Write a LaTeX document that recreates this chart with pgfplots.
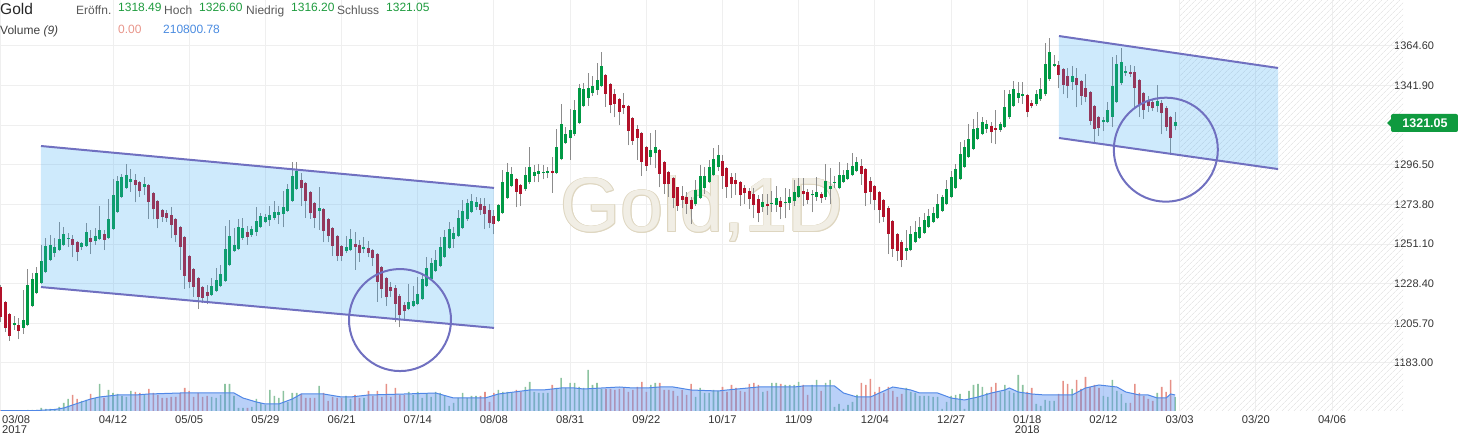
\documentclass[border=0pt]{standalone}
\usepackage{pgfplots}
\pgfplotsset{compat=1.18}
\usepackage{pgfplotstable}
\usepackage{fontspec}
\setmainfont{Liberation Sans}
\usetikzlibrary{patterns.meta}
\definecolor{upc}{RGB}{0,153,68}
\definecolor{dnc}{RGB}{178,18,42}
\definecolor{wick}{RGB}{140,140,140}
\definecolor{gridc}{RGB}{239,239,239}
\definecolor{chan}{RGB}{60,170,245}
\definecolor{chanline}{RGB}{112,112,192}
\definecolor{volup}{RGB}{140,195,160}
\definecolor{voldn}{RGB}{230,145,135}
\definecolor{maf}{RGB}{100,150,240}
\definecolor{mal}{RGB}{80,135,230}
\definecolor{wm}{RGB}{241,238,229}
\definecolor{wmo}{RGB}{222,214,192}
\definecolor{txt}{RGB}{51,51,51}
\definecolor{hdrgreen}{RGB}{30,155,62}
\definecolor{hdrred}{RGB}{232,149,138}
\definecolor{hdrblue}{RGB}{74,139,224}
\definecolor{boxgreen}{RGB}{15,154,63}

\pgfplotstableread{
i O H L C V
0 1226.7 1227.7 1206.7 1209.5 0.5
1 1218.0 1218.5 1200.8 1203.2 0.5
2 1211.1 1211.5 1195.8 1198.7 0.5
3 1204.9 1209.9 1201.9 1206.1 0.5
4 1204.8 1208.6 1196.6 1201.3 0.5
5 1203.2 1224.8 1199.6 1207.6 0.5
6 1205.0 1236.8 1204.0 1227.7 1
7 1215.8 1234.4 1215.0 1231.1 1
8 1223.3 1237.8 1222.5 1234.6 1
9 1229.0 1250.6 1228.2 1241.4 3
10 1235.3 1254.4 1234.5 1250.0 2
11 1242.2 1256.3 1241.4 1250.6 2
12 1246.2 1254.4 1243.5 1249.5 2
13 1247.7 1263.6 1247.0 1254.0 4
14 1250.8 1261.1 1250.0 1256.9 8
15 1254.0 1257.3 1249.6 1254.0 12
16 1254.0 1256.3 1243.5 1250.8 16
17 1252.1 1253.0 1241.4 1246.8 12
18 1249.6 1252.2 1247.7 1251.7 10
19 1250.2 1263.0 1249.5 1258.0 11
20 1254.6 1259.2 1245.3 1252.3 17
21 1252.9 1260.2 1250.6 1255.8 13
22 1254.0 1272.9 1253.2 1259.2 27
23 1256.9 1259.0 1247.7 1253.5 13
24 1254.6 1276.8 1254.0 1265.5 21
25 1260.0 1288.2 1259.2 1279.2 18
26 1269.7 1290.1 1269.0 1287.3 17
27 1278.3 1291.3 1277.6 1289.4 15
28 1283.4 1296.8 1282.7 1290.7 14
29 1286.9 1294.1 1281.0 1288.4 20
30 1287.8 1291.1 1275.0 1285.0 19
31 1286.5 1287.2 1278.3 1281.5 18
32 1284.0 1289.4 1279.2 1285.5 16
33 1285.0 1285.6 1265.5 1275.4 22
34 1280.2 1281.0 1265.3 1271.0 18
35 1275.8 1276.5 1260.1 1265.3 16
36 1270.5 1271.2 1264.0 1266.8 13
37 1268.9 1270.6 1264.0 1266.3 13
38 1267.8 1272.2 1254.4 1262.1 14
39 1265.3 1266.0 1252.3 1256.1 14
40 1260.9 1261.6 1236.3 1249.6 18
41 1255.2 1256.0 1225.4 1233.0 23
42 1244.3 1245.0 1225.8 1229.2 20
43 1236.8 1237.5 1221.0 1226.7 14
44 1231.7 1232.4 1213.9 1221.0 18
45 1226.5 1227.2 1217.2 1220.4 14
46 1223.7 1227.7 1216.6 1221.6 15
47 1222.0 1231.5 1221.3 1227.1 14
48 1224.4 1237.2 1223.7 1230.5 13
49 1227.1 1239.2 1226.4 1234.0 16
50 1230.2 1261.4 1229.5 1248.3 27
51 1239.2 1264.9 1238.5 1255.8 27
52 1247.4 1260.1 1246.7 1250.6 15
53 1248.3 1265.5 1247.6 1260.7 3
54 1254.8 1265.9 1253.5 1260.1 3
55 1258.0 1261.4 1250.6 1255.2 3
56 1256.3 1261.4 1255.4 1259.8 4
57 1258.2 1272.2 1255.8 1264.3 12
58 1261.1 1269.1 1260.4 1267.2 8
59 1263.9 1268.5 1263.0 1266.4 6
60 1264.9 1272.9 1261.4 1267.8 21
61 1266.1 1276.0 1264.9 1269.7 15
62 1267.8 1272.9 1262.6 1269.7 13
63 1268.4 1281.7 1260.7 1272.6 20
64 1270.3 1285.5 1269.6 1282.7 9
65 1276.0 1298.3 1275.3 1290.1 18
66 1282.7 1298.3 1282.0 1293.0 18
67 1287.8 1291.6 1272.9 1283.1 17
68 1285.9 1286.6 1266.3 1276.0 13
69 1281.0 1281.7 1265.5 1268.7 13
70 1274.7 1275.4 1260.1 1266.3 13
71 1270.3 1283.6 1259.2 1271.8 25
72 1271.0 1271.7 1252.1 1258.6 18
73 1265.5 1266.2 1252.1 1255.8 10
74 1260.1 1260.8 1244.3 1250.2 14
75 1255.8 1256.5 1241.4 1244.3 13
76 1250.0 1250.7 1241.4 1244.3 13
77 1247.4 1255.8 1245.8 1249.3 15
78 1247.7 1259.6 1247.0 1254.0 12
79 1251.2 1258.2 1236.3 1249.6 16
80 1250.6 1253.5 1241.0 1246.2 13
81 1248.3 1255.0 1245.8 1249.3 13
82 1248.9 1253.1 1243.5 1246.2 20
83 1247.7 1248.4 1238.5 1243.3 15
84 1245.5 1246.2 1218.1 1229.6 20
85 1237.8 1238.5 1220.0 1225.2 14
86 1231.5 1232.2 1215.8 1221.0 27
87 1226.7 1229.6 1221.0 1224.4 14
88 1225.8 1227.7 1206.3 1216.8 23
89 1221.6 1222.3 1203.4 1210.5 16
90 1216.2 1218.1 1207.1 1212.8 16
91 1213.9 1228.1 1213.2 1217.8 19
92 1215.8 1227.1 1215.3 1218.5 16
93 1217.0 1232.5 1216.3 1222.5 19
94 1219.9 1234.8 1219.2 1231.1 13
95 1227.1 1243.5 1226.4 1237.6 17
96 1231.1 1243.1 1230.4 1240.1 14
97 1235.9 1247.7 1235.2 1242.0 19
98 1238.6 1255.4 1237.9 1249.3 18
99 1243.9 1259.2 1243.2 1255.0 15
100 1249.1 1263.6 1248.4 1259.6 5
101 1254.0 1261.1 1249.1 1257.7 8
102 1255.9 1270.6 1255.2 1265.9 13
103 1260.5 1276.4 1259.8 1270.1 18
104 1265.3 1276.8 1264.6 1274.8 13
105 1269.7 1279.6 1269.0 1275.8 15
106 1272.6 1278.3 1270.6 1275.0 15
107 1274.1 1277.3 1267.8 1270.6 15
108 1273.1 1277.3 1259.6 1268.4 19
109 1270.6 1273.9 1260.5 1263.4 9
110 1267.2 1270.6 1256.7 1262.6 18
111 1264.5 1274.2 1263.8 1273.5 21
112 1269.1 1293.6 1268.4 1286.5 19
113 1277.7 1297.4 1277.0 1292.2 19
114 1284.4 1295.5 1283.7 1291.3 18
115 1288.4 1289.1 1272.2 1281.2 21
116 1285.0 1285.7 1272.9 1279.8 19
117 1282.5 1295.5 1281.8 1290.7 24
118 1286.5 1306.5 1285.8 1295.1 29
119 1290.3 1296.4 1286.5 1292.2 19
120 1291.3 1297.0 1286.5 1293.0 18
121 1292.0 1296.4 1288.2 1292.0 18
122 1292.0 1295.5 1288.8 1293.0 18
123 1293.0 1300.8 1280.6 1292.0 26
124 1292.0 1316.9 1291.3 1306.5 23
125 1299.7 1331.4 1299.0 1319.9 33
126 1309.2 1318.4 1308.5 1314.2 23
127 1311.7 1328.3 1299.4 1316.5 28
128 1314.0 1333.7 1313.3 1327.9 28
129 1320.7 1342.8 1320.0 1340.3 24
130 1330.3 1343.6 1329.6 1339.8 23
131 1335.0 1348.9 1330.4 1340.3 41
132 1337.9 1347.4 1336.0 1341.7 26
133 1339.4 1354.7 1336.5 1345.1 28
134 1341.9 1361.4 1341.2 1353.1 22
135 1348.0 1348.7 1329.8 1337.1 22
136 1342.8 1343.5 1326.0 1330.8 22
137 1337.1 1339.8 1323.7 1331.4 21
138 1334.2 1334.9 1319.3 1327.0 22
139 1330.8 1337.5 1325.6 1329.3 23
140 1330.2 1330.9 1307.7 1316.1 19
141 1323.2 1323.9 1307.9 1310.4 21
142 1317.1 1319.3 1299.3 1312.1 24
143 1314.6 1315.3 1290.3 1298.3 29
144 1306.5 1307.2 1293.2 1296.0 19
145 1301.2 1315.0 1296.4 1305.0 26
146 1303.1 1316.5 1294.5 1306.5 28
147 1305.0 1305.7 1283.6 1291.3 28
148 1298.0 1298.7 1279.8 1285.5 21
149 1292.2 1292.9 1278.3 1285.5 21
150 1288.8 1289.5 1271.6 1277.7 20
151 1283.6 1284.0 1270.3 1273.1 15
152 1278.7 1284.6 1271.6 1276.4 21
153 1277.9 1281.2 1268.4 1274.1 16
154 1276.4 1278.3 1262.6 1271.2 27
155 1273.9 1287.8 1273.2 1282.1 14
156 1277.7 1296.4 1277.0 1290.1 23
157 1283.4 1295.5 1279.8 1290.1 18
158 1286.9 1299.3 1286.2 1295.5 18
159 1290.7 1306.0 1290.0 1299.9 21
160 1295.1 1307.9 1293.2 1302.2 20
161 1298.7 1302.2 1282.7 1290.3 24
162 1294.7 1295.4 1277.8 1284.0 19
163 1289.4 1292.0 1277.7 1285.4 26
164 1287.8 1292.0 1279.2 1285.5 23
165 1286.5 1287.2 1273.1 1279.2 20
166 1283.1 1285.0 1274.1 1280.2 19
167 1281.5 1283.1 1271.2 1277.0 27
168 1279.8 1283.1 1265.9 1273.5 28
169 1277.0 1279.2 1263.6 1269.1 26
170 1272.6 1279.8 1269.7 1275.0 19
171 1274.1 1279.8 1267.8 1273.1 20
172 1273.9 1281.5 1269.7 1274.8 28
173 1273.5 1284.4 1269.7 1277.3 28
174 1275.8 1278.3 1265.3 1272.6 27
175 1274.5 1283.1 1265.9 1275.4 26
176 1274.8 1282.5 1270.6 1277.9 26
177 1276.0 1287.8 1272.9 1280.8 26
178 1278.3 1289.2 1277.6 1284.4 29
179 1281.5 1288.8 1272.9 1279.6 26
180 1281.2 1282.5 1274.1 1276.4 16
181 1279.0 1282.1 1269.3 1279.2 26
182 1278.3 1289.4 1275.8 1280.8 31
183 1279.8 1281.2 1274.8 1277.7 20
184 1278.3 1296.8 1276.4 1287.3 28
185 1282.7 1294.5 1274.1 1284.6 31
186 1286.0 1290.0 1283.0 1286.5 4
187 1283.1 1298.3 1282.4 1290.7 7
188 1286.9 1293.6 1286.2 1290.7 2
189 1288.4 1297.4 1287.7 1293.6 6
190 1290.7 1303.1 1290.0 1295.9 9
191 1293.0 1300.8 1292.3 1298.0 16
192 1295.9 1299.7 1285.0 1291.3 28
193 1294.1 1294.8 1272.9 1280.6 26
194 1287.3 1289.7 1274.1 1281.2 32
195 1284.4 1285.1 1270.6 1276.4 19
196 1281.0 1281.7 1263.0 1270.6 24
197 1276.4 1277.1 1264.0 1266.8 18
198 1272.0 1272.7 1245.4 1256.9 24
199 1264.3 1265.0 1243.9 1248.3 20
200 1256.9 1257.6 1241.6 1247.4 14
201 1252.5 1253.2 1237.8 1242.0 17
202 1247.2 1259.2 1242.0 1249.1 23
203 1247.7 1261.5 1247.0 1256.9 19
204 1252.5 1264.3 1251.8 1257.9 18
205 1254.8 1266.4 1254.1 1260.7 15
206 1257.7 1268.7 1257.0 1264.9 15
207 1261.1 1271.0 1260.4 1267.4 15
208 1264.0 1272.2 1263.3 1268.7 14
209 1266.3 1279.8 1265.6 1274.1 14
210 1270.3 1279.2 1269.6 1278.3 2
211 1274.1 1287.8 1273.4 1282.7 9
212 1278.3 1293.0 1277.6 1289.7 15
213 1283.4 1296.8 1282.7 1294.1 16
214 1288.4 1309.8 1287.7 1302.7 17
215 1295.5 1310.8 1294.8 1306.5 2
216 1301.2 1319.9 1300.5 1311.3 20
217 1305.6 1322.6 1304.9 1317.1 26
218 1311.3 1326.6 1310.6 1317.8 27
219 1314.2 1324.1 1313.5 1321.1 24
220 1317.1 1322.2 1315.0 1320.0 18
221 1318.8 1321.3 1308.8 1315.5 24
222 1317.8 1327.9 1308.3 1316.5 28
223 1316.5 1321.3 1315.5 1319.9 19
224 1318.4 1339.4 1317.7 1329.8 26
225 1323.7 1339.4 1323.0 1337.1 20
226 1330.4 1344.5 1329.7 1340.0 18
227 1335.0 1344.2 1331.8 1337.9 36
228 1336.1 1343.8 1331.4 1337.1 26
229 1336.5 1337.2 1323.7 1327.0 19
230 1331.8 1333.7 1328.9 1330.4 23
231 1331.2 1339.4 1330.5 1337.1 7
232 1334.0 1346.1 1333.3 1340.0 5
233 1336.9 1366.1 1336.2 1354.1 11
234 1345.5 1369.4 1344.8 1361.0 10
235 1353.3 1359.4 1352.8 1354.3 10
236 1353.7 1356.0 1340.3 1348.0 17
237 1351.4 1352.1 1336.9 1342.3 30
238 1347.4 1351.8 1334.6 1341.7 27
239 1344.2 1353.3 1339.4 1347.4 22
240 1346.5 1352.2 1329.5 1342.3 31
241 1344.5 1345.2 1330.8 1336.0 22
242 1340.7 1348.4 1332.3 1335.6 34
243 1338.1 1338.8 1319.3 1321.8 24
244 1330.2 1330.9 1308.8 1317.1 26
245 1323.7 1324.4 1313.0 1317.8 23
246 1320.9 1324.1 1315.9 1322.2 15
247 1321.3 1332.7 1320.6 1327.9 14
248 1324.1 1358.5 1318.4 1341.7 31
249 1332.7 1359.4 1332.0 1354.3 20
250 1343.2 1363.6 1342.5 1355.2 17
251 1349.3 1353.3 1347.6 1350.3 8
252 1349.5 1353.7 1346.6 1348.6 8
253 1349.5 1353.3 1329.5 1340.7 27
254 1345.1 1345.8 1323.7 1330.8 18
255 1337.5 1338.2 1322.8 1327.9 15
256 1333.1 1335.9 1327.0 1330.4 12
257 1332.3 1334.2 1327.4 1328.9 10
258 1330.4 1342.3 1326.6 1333.1 18
259 1331.8 1333.7 1314.0 1326.0 24
260 1329.3 1330.0 1316.1 1318.4 19
261 1323.7 1324.4 1303.1 1312.1 31
262 1318.49 1326.60 1316.20 1321.05 14
}\ohlc

\pgfplotstableread{
i m
0 0.3
8 0.5
10 1
12 1.5
14 3
16 6
18 9
20 12
22 14
24 15
26 16
30 16
33 17
40 18
50 18
52 18
54 13
57 9
59 7
62 7
65 12
67 17
72 17
76 14
78 14
82 16
90 17
97 18
101 13
108 13
111 17
118 21
121 21
125 23
128 23
130 22
138 24
141 23
144 23
147 24
150 24
154 21
160 20
162 21
169 24
177 24
179 25
186 25
188 18
191 14
194 14
199 24
203 21
205 18
209 18
212 13
215 11
218 14
221 18
224 21
225 23
227 19
230 17
233 16
239 16
242 23
245 26
249 24
251 19
254 16
256 16
258 13
260 13
261 17
262 16
}\vma

\tikzset{wmstyle/.style={anchor=base, font=\fontsize{77}{77}\selectfont, inner sep=0pt}}
\begin{document}
\begin{tikzpicture}
\useasboundingbox (0,0) rectangle (1458pt,438pt);
\begin{axis}[
  at={(0pt,27pt)}, anchor=south west, scale only axis,
  x=4.4816pt, y=1.7456pt,
  xmin=-0.2142, xmax=312.85, ymin=1155.5, ymax=1390.95,
  axis line style={draw=none},
  major tick length=0pt,
  xmajorgrids, ymajorgrids,
  grid style={draw=gridc, line width=1pt},
  ytick={1183,1205.7,1228.4,1251.1,1273.8,1296.5,1319.2,1341.9,1364.6},
  yticklabels={1183.00,1205.70,1228.40,1251.10,1273.80,1296.50,{},1341.90,1364.60},
  yticklabel pos=right,
  yticklabel style={anchor=west, inner sep=0pt, xshift=-9pt, text=txt, font=\fontsize{11}{13}\selectfont},
  xtick={25,42,59,76,93,110,127,144,161,178,195,212,229,246,263,280,297},
  xticklabels={04/12,05/05,05/29,06/21,07/14,08/08,08/31,09/22,10/17,11/09,12/04,12/27,{01/18\\2018},02/12,03/03,03/20,04/06},
  xticklabel style={anchor=north, align=center, inner sep=0pt, yshift=-4pt, text=txt, font=\fontsize{11.2}{10}\selectfont},
  extra x ticks={0},
  extra x tick labels={{03/08\\2017}},
  extra x tick style={grid=major, xticklabel style={anchor=north west, align=left, xshift=1pt}},
]
% hatched future area
\fill[pattern={Lines[angle=45,distance=4pt,line width=0.8pt]}, pattern color=black!9]
  (axis cs:263.09,1155.5) rectangle (axis cs:312.85,1390.95);
% watermark with outline
\node[wmstyle, text=wmo, xshift=0.8pt] at (axis cs:156.43,1258.05) {Gold,1D};
\node[wmstyle, text=wmo, xshift=-0.8pt] at (axis cs:156.43,1258.05) {Gold,1D};
\node[wmstyle, text=wmo, yshift=0.8pt] at (axis cs:156.43,1258.05) {Gold,1D};
\node[wmstyle, text=wmo, yshift=-0.8pt] at (axis cs:156.43,1258.05) {Gold,1D};
\node[wmstyle, text=wmo, xshift=0.6pt, yshift=0.6pt] at (axis cs:156.43,1258.05) {Gold,1D};
\node[wmstyle, text=wmo, xshift=-0.6pt, yshift=0.6pt] at (axis cs:156.43,1258.05) {Gold,1D};
\node[wmstyle, text=wmo, xshift=0.6pt, yshift=-0.6pt] at (axis cs:156.43,1258.05) {Gold,1D};
\node[wmstyle, text=wmo, xshift=-0.6pt, yshift=-0.6pt] at (axis cs:156.43,1258.05) {Gold,1D};
\node[wmstyle, text=wm] at (axis cs:156.43,1258.05) {Gold,1D};
% wicks
\addplot[draw=none, forget plot, error bars/.cd, y dir=plus, y explicit, error mark=none,
  error bar style={color=wick, line width=1pt}]
  table[x=i, y=L, y error plus expr=\thisrow{H}-\thisrow{L}] {\ohlc};
% up bodies
\addplot[draw=none, forget plot, restrict expr to domain={\thisrow{C}-\thisrow{O}}{0:1000},
  error bars/.cd, y dir=plus, y explicit, error mark=none,
  error bar style={color=upc, line width=3pt}]
  table[x=i, y expr={min(\thisrow{O},\thisrow{C})}, y error plus expr={max(abs(\thisrow{C}-\thisrow{O}),0.6)}] {\ohlc};
% down bodies
\addplot[draw=none, forget plot, restrict expr to domain={\thisrow{C}-\thisrow{O}}{-1000:-0.0001},
  error bars/.cd, y dir=plus, y explicit, error mark=none,
  error bar style={color=dnc, line width=3pt}]
  table[x=i, y expr={min(\thisrow{O},\thisrow{C})}, y error plus expr={max(abs(\thisrow{C}-\thisrow{O}),0.6)}] {\ohlc};
% channel 1
\fill[chan, fill opacity=0.25] (axis cs:8.934,1307.3) -- (axis cs:110.01,1283.3) -- (axis cs:110.01,1203.1) -- (axis cs:8.934,1226.5) -- cycle;
\draw[chanline, line width=2pt] (axis cs:8.934,1307.3) -- (axis cs:110.01,1283.3);
\draw[chanline, line width=2pt] (axis cs:8.934,1226.5) -- (axis cs:110.01,1203.1);
\draw[chanline, line width=2pt] (axis cs:89.04,1207.6) circle[radius=51pt];
% channel 2
\fill[chan, fill opacity=0.25] (axis cs:236.08,1370.3) -- (axis cs:284.95,1352.0) -- (axis cs:284.95,1294.1) -- (axis cs:236.08,1311.9) -- cycle;
\draw[chanline, line width=2pt] (axis cs:236.08,1370.3) -- (axis cs:284.95,1352.0);
\draw[chanline, line width=2pt] (axis cs:236.08,1311.9) -- (axis cs:284.95,1294.1);
\draw[chanline, line width=2pt] (axis cs:259.92,1305.2) circle[radius=52pt];
\end{axis}

% volume panel
\begin{axis}[
  at={(0pt,27pt)}, anchor=south west, scale only axis,
  x=4.4816pt, y=1pt,
  xmin=-0.2142, xmax=312.85, ymin=0, ymax=60,
  hide axis,
]
\addplot[ybar, bar width=1.6pt, bar shift=0pt, fill=volup, draw=none, forget plot,
  restrict expr to domain={\thisrow{C}-\thisrow{O}}{0:1000}] table[x=i, y=V] {\ohlc};
\addplot[ybar, bar width=1.6pt, bar shift=0pt, fill=voldn, draw=none, forget plot,
  restrict expr to domain={\thisrow{C}-\thisrow{O}}{-1000:-0.0001}] table[x=i, y=V] {\ohlc};
\addplot[fill=maf, fill opacity=0.45, draw=none, forget plot] table[x=i, y=m] {\vma} \closedcycle;
\addplot[mal, line width=1pt, forget plot] table[x=i, y=m] {\vma};
\end{axis}

% header
\node[anchor=base west, inner sep=0pt, font=\fontsize{15.5}{18}\selectfont, text=black!85] at (0pt,423pt) {Gold};
\node[anchor=base west, inner sep=0pt, font=\fontsize{12}{14}\selectfont, text=black!65] at (76pt,423pt) {Eröffn.};
\node[anchor=base west, inner sep=0pt, font=\fontsize{12}{14}\selectfont, text=hdrgreen] at (118pt,426pt) {1318.49};
\node[anchor=base west, inner sep=0pt, font=\fontsize{12}{14}\selectfont, text=black!65] at (164pt,423pt) {Hoch};
\node[anchor=base west, inner sep=0pt, font=\fontsize{12}{14}\selectfont, text=hdrgreen] at (199pt,426pt) {1326.60};
\node[anchor=base west, inner sep=0pt, font=\fontsize{12}{14}\selectfont, text=black!65] at (246pt,423pt) {Niedrig};
\node[anchor=base west, inner sep=0pt, font=\fontsize{12}{14}\selectfont, text=hdrgreen] at (291pt,426pt) {1316.20};
\node[anchor=base west, inner sep=0pt, font=\fontsize{12}{14}\selectfont, text=black!65] at (337pt,423pt) {Schluss};
\node[anchor=base west, inner sep=0pt, font=\fontsize{12}{14}\selectfont, text=hdrgreen] at (386pt,426pt) {1321.05};
\node[anchor=base west, inner sep=0pt, font=\fontsize{12}{14}\selectfont, text=black!75] at (0pt,403pt) {Volume \textit{(9)}};
\node[anchor=base west, inner sep=0pt, font=\fontsize{12}{14}\selectfont, text=hdrred] at (118pt,404pt) {0.00};
\node[anchor=base west, inner sep=0pt, font=\fontsize{12}{14}\selectfont, text=hdrblue] at (163pt,404pt) {210800.78};

% current price label
\fill[boxgreen, rounded corners=2pt] (1391pt,306pt) rectangle (1458pt,324pt);
\fill[boxgreen] (1387pt,315pt) -- (1392pt,310pt) -- (1392pt,320pt) -- cycle;
\node[inner sep=0pt, text=white, font=\fontsize{12.5}{14}\selectfont\bfseries] at (1425pt,315pt) {1321.05};
\end{tikzpicture}
\end{document}
